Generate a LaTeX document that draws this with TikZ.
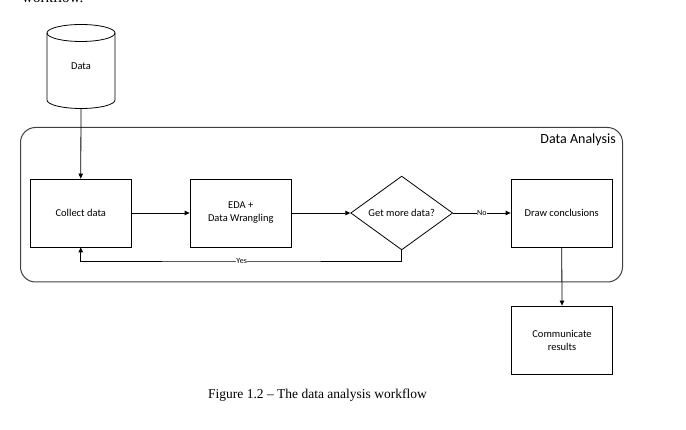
\documentclass[tikz,border=0pt]{standalone}
\usepackage{fontspec}
\setmainfont{Carlito}
\newfontfamily\capfont{Liberation Serif}
\usetikzlibrary{shapes.geometric,arrows.meta}
\tikzset{
  x=1pt,y=1pt,
  line/.style={draw=black,line width=0.8pt},
  arr/.style={line,-{Triangle[length=5pt,width=4.5pt]}},
  box/.style={line,rectangle,minimum width=101.5pt,minimum height=68pt,align=center,font=\fontsize{10.5}{13}\selectfont,inner sep=0pt},
  dec/.style={line,diamond,minimum width=102pt,minimum height=67pt,inner sep=0pt,font=\fontsize{10.5}{13}\selectfont},
  elabel/.style={fill=white,inner sep=0.5pt,font=\fontsize{8}{9}\selectfont},
}
\begin{document}
\begin{tikzpicture}
\useasboundingbox (0,0) rectangle (686,429);
\clip (0,0) rectangle (686,429);
% cut-off text at top
\node[anchor=base west,inner sep=0pt,font=\capfont\fontsize{15}{18}\selectfont] (top) at (22,426) {workflow.};
% container
\draw[draw=black!75,line width=1pt,rounded corners=15pt] (20.5,147) rectangle (622.5,301.5);
\node[anchor=east,inner sep=0pt,font=\fontsize{14}{16}\selectfont] (da) at (616,289) {Data Analysis};
% cylinder
\node[minimum width=68pt,minimum height=84pt,inner sep=0pt,font=\fontsize{10.5}{13}\selectfont] (data) at (81,362.5) {Data};
\draw[line] (47,396) -- (47,329) arc[start angle=180,end angle=360,x radius=34,y radius=8.5] -- (115,396);
\draw[line] (81,396) ellipse[x radius=34,y radius=8.5];
% boxes
\node[box] (collect) at (80.75,216) {Collect data};
\node[box] (eda) at (240.75,216) {EDA +\\Data Wrangling};
\node[dec] (more) at (401.7,216) {Get more data?};
\node[box] (concl) at (561.75,216) {Draw conclusions};
\node[box] (comm) at (562,89) {Communicate\\results};
% connectors
\draw[arr] (data.south) -- (collect.north);
\draw[arr] (collect) -- (eda);
\draw[arr] (eda) -- (more);
\draw[arr] (more) -- node[elabel,pos=0.5] {No} (concl);
\draw[arr] (more.south) |- (241.7,168) node[elabel] {Yes} -| (collect.south);
\draw[arr] (concl.south) -- (comm.north);
% caption
\node[font=\capfont\fontsize{13.5}{16}\selectfont,inner sep=0pt] (cap) at (317.5,34) {Figure 1.2 – The data analysis workflow};
\end{tikzpicture}
\end{document}
